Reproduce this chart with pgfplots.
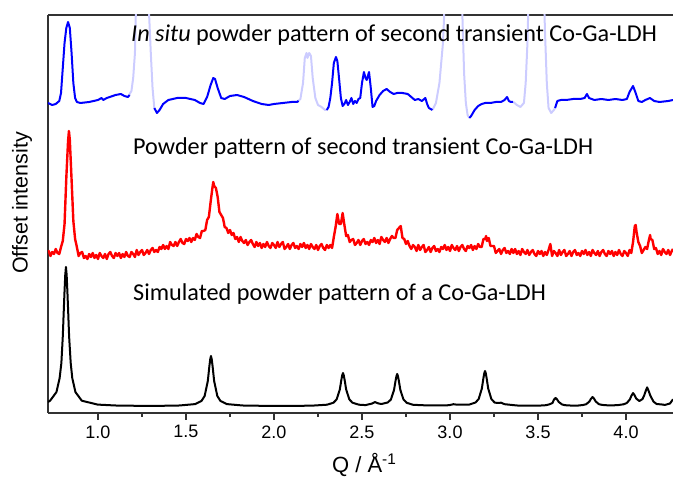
\documentclass[border=0pt]{standalone}
\usepackage{pgfplots}
\pgfplotsset{compat=1.18}
\usepackage{fontspec}
\setmainfont{Liberation Sans}
\newfontfamily\calfont{Carlito}
\definecolor{lightblue}{RGB}{204,204,255}
\definecolor{axisgray}{RGB}{50,50,50}
\begin{document}
\begin{tikzpicture}
\useasboundingbox (-48pt,-65pt) rectangle (625pt,413pt);
\begin{axis}[
  scale only axis, width=625pt, height=398pt,
  xmin=0.716, xmax=4.267, ymin=0, ymax=398,
  axis x line*=box, axis y line*=left,
  axis line style={axisgray, line width=1.2pt},
  ytick=\empty,
  xtick={1.0,1.5,2.0,2.5,3.0,3.5,4.0},
  minor x tick num=1,
  xtick pos=left, tick align=outside,
  major tick length=7pt, minor tick length=4pt,
  every tick/.style={axisgray, line width=1.1pt},
  xticklabel style={font=\fontsize{18}{18}\selectfont, yshift=-2pt},
  /pgf/number format/assume math mode=true,
  /pgf/number format/.cd, fixed, fixed zerofill, precision=1, /pgfplots/.cd,
  xlabel={Q / Å\textsuperscript{-1}},
  xlabel style={font=\fontsize{22}{22}\selectfont, at={(axis description cs:0.506,0)}, anchor=center, yshift=-52pt},
  clip=true,
]
% light blue masked segments
\addplot[lightblue, line width=2pt, line join=round] coordinates {(1.17,316) (1.19,322) (1.20,335) (1.21,360) (1.215,400) (1.22,430) (1.285,430) (1.29,400) (1.30,360) (1.31,325) (1.32,305)};
\addplot[lightblue, line width=2pt, line join=round] coordinates {(2.13,311) (2.15,314) (2.165,330) (2.175,355) (2.185,360) (2.19,355) (2.20,360) (2.21,357) (2.22,335) (2.235,315) (2.25,308) (2.27,306) (2.29,303) (2.30,303)};
\addplot[lightblue, line width=2pt, line join=round] coordinates {(2.90,303) (2.92,310) (2.94,330) (2.96,370) (2.97,410) (2.98,440) (3.06,440) (3.07,400) (3.08,340) (3.09,310) (3.10,298) (3.11,295)};
\addplot[lightblue, line width=2pt, line join=round] coordinates {(3.36,311) (3.38,308) (3.40,306) (3.42,310) (3.43,330) (3.44,370) (3.45,440) (3.53,440) (3.54,380) (3.55,330) (3.56,305) (3.575,300) (3.59,303) (3.60,306)};
% blue segments
\addplot[blue, line width=2pt, line join=round] coordinates {(0.716,310) (0.74,308) (0.76,309) (0.78,312) (0.79,320) (0.80,345) (0.81,370) (0.82,385) (0.83,391) (0.84,385) (0.85,360) (0.86,330) (0.87,315) (0.88,311) (0.90,310) (0.95,311) (1.00,313) (1.02,315) (1.03,313) (1.05,315) (1.10,318) (1.13,319) (1.15,317) (1.17,316) (1.18,318)};
\addplot[blue, line width=2pt, line join=round] coordinates {(1.32,305) (1.335,300) (1.35,303) (1.37,309) (1.40,313) (1.45,315) (1.50,315) (1.55,313) (1.58,310) (1.60,309) (1.62,316) (1.64,328) (1.655,335) (1.665,334) (1.68,325) (1.70,315) (1.72,314) (1.75,317) (1.79,318) (1.83,316) (1.88,312) (1.93,309) (1.97,308) (2.00,309) (2.05,310) (2.10,311) (2.13,311) (2.14,312)};
\addplot[blue, line width=2pt, line join=round] coordinates {(2.30,303) (2.31,306) (2.32,315) (2.33,330) (2.34,350) (2.352,356) (2.36,352) (2.37,334) (2.38,315) (2.39,307) (2.40,309) (2.41,313) (2.42,308) (2.43,311) (2.44,315) (2.45,309) (2.46,312) (2.47,310) (2.48,314) (2.49,315) (2.50,330) (2.511,341) (2.52,335) (2.527,333) (2.54,341) (2.55,325) (2.56,306) (2.57,307) (2.58,312) (2.60,318) (2.62,322) (2.64,324) (2.66,321) (2.68,319) (2.70,320) (2.73,320) (2.76,319) (2.78,316) (2.80,313) (2.82,314) (2.84,312) (2.86,315) (2.87,309) (2.88,305) (2.90,303)};
\addplot[blue, line width=2pt, line join=round] coordinates {(3.11,295) (3.12,297) (3.14,303) (3.16,307) (3.18,309) (3.20,310) (3.23,310) (3.26,311) (3.29,311) (3.31,313) (3.324,316) (3.335,312) (3.345,311) (3.358,311)};
\addplot[blue, line width=2pt, line join=round] coordinates {(3.597,305) (3.61,312) (3.63,313) (3.66,313) (3.70,314) (3.74,314) (3.765,315) (3.778,319) (3.79,315) (3.82,313) (3.86,314) (3.90,313) (3.94,314) (3.98,313) (4.005,314) (4.02,321) (4.04,327) (4.055,320) (4.07,312) (4.09,311) (4.11,313) (4.136,315) (4.16,312) (4.19,311) (4.24,312) (4.267,313)};
% red measured pattern
\addplot[red, line width=2.4pt, line join=round] coordinates {
(0.716,161) (0.72,162) (0.73,157) (0.74,161) (0.75,159) (0.76,164) (0.77,160) (0.78,159) (0.79,166) (0.80,172) (0.81,189)
(0.82,235) (0.83,272) (0.835,282) (0.84,273) (0.85,233) (0.86,192) (0.87,174) (0.88,166) (0.89,157) (0.90,160)
(0.91,161) (0.92,155) (0.93,157) (0.94,154) (0.95,159) (0.96,156) (0.97,160) (0.98,155) (0.99,158) (1.00,154)
(1.01,160) (1.02,157) (1.03,155) (1.04,159) (1.05,154) (1.06,159) (1.07,161) (1.08,157) (1.09,155) (1.10,160)
(1.11,157) (1.12,160) (1.13,155) (1.14,159) (1.15,156) (1.16,161) (1.17,157) (1.18,156) (1.19,161) (1.20,159)
(1.21,156) (1.22,163) (1.23,158) (1.24,161) (1.25,163) (1.26,158) (1.27,160) (1.28,163) (1.29,159) (1.30,163)
(1.31,165) (1.32,161) (1.33,163) (1.34,161) (1.35,166) (1.36,164) (1.37,168) (1.38,164) (1.39,167) (1.40,164)
(1.41,171) (1.42,168) (1.43,167) (1.44,171) (1.45,167) (1.46,171) (1.47,174) (1.48,170) (1.49,169) (1.50,174)
(1.51,172) (1.52,175) (1.53,171) (1.54,175) (1.55,173) (1.56,179) (1.57,176) (1.58,175) (1.59,182) (1.60,182)
(1.61,183) (1.62,193) (1.63,196) (1.64,211) (1.65,225) (1.655,231) (1.66,227) (1.67,225) (1.68,216) (1.69,201) (1.70,198)
(1.71,195) (1.72,186) (1.73,185) (1.74,180) (1.75,183) (1.76,178) (1.77,180) (1.78,174) (1.79,176) (1.80,171)
(1.81,176) (1.82,172) (1.83,170) (1.84,173) (1.85,168) (1.86,171) (1.87,173) (1.88,169) (1.89,166) (1.90,171)
(1.91,167) (1.92,170) (1.93,165) (1.94,169) (1.95,166) (1.96,171) (1.97,167) (1.98,165) (1.99,170) (2.00,168)
(2.01,165) (2.02,171) (2.03,166) (2.04,169) (2.05,171) (2.06,164) (2.07,166) (2.08,169) (2.09,164) (2.10,168)
(2.11,170) (2.12,165) (2.13,167) (2.14,164) (2.15,169) (2.16,166) (2.17,170) (2.18,165) (2.19,168) (2.20,164)
(2.21,169) (2.22,166) (2.23,164) (2.24,168) (2.25,163) (2.26,167) (2.27,169) (2.28,165) (2.29,163) (2.30,168)
(2.31,165) (2.32,168) (2.33,165) (2.34,176) (2.35,186) (2.36,199) (2.37,189) (2.38,189) (2.39,200) (2.40,188)
(2.41,177) (2.42,178) (2.43,171) (2.44,173) (2.45,174) (2.46,168) (2.47,170) (2.48,173) (2.49,168) (2.50,172)
(2.51,174) (2.52,169) (2.53,171) (2.54,168) (2.55,173) (2.56,171) (2.57,175) (2.58,170) (2.59,173) (2.60,169)
(2.61,176) (2.62,173) (2.63,171) (2.64,175) (2.65,170) (2.66,174) (2.67,177) (2.68,175) (2.69,175) (2.70,183)
(2.71,185) (2.72,187) (2.73,175) (2.74,174) (2.75,169) (2.76,172) (2.77,167) (2.78,164) (2.79,168) (2.80,166)
(2.81,162) (2.82,168) (2.83,163) (2.84,166) (2.85,168) (2.86,161) (2.87,163) (2.88,166) (2.89,161) (2.90,165)
(2.91,167) (2.92,162) (2.93,164) (2.94,161) (2.95,166) (2.96,164) (2.97,168) (2.98,163) (2.99,166) (3.00,162)
(3.01,168) (3.02,165) (3.03,163) (3.04,167) (3.05,162) (3.06,166) (3.07,168) (3.08,164) (3.09,162) (3.10,167)
(3.11,165) (3.12,168) (3.13,163) (3.14,167) (3.15,164) (3.16,169) (3.17,166) (3.18,166) (3.19,174) (3.20,174)
(3.205,177) (3.21,172) (3.22,175) (3.23,167) (3.24,167) (3.25,167) (3.26,160) (3.27,162) (3.28,164) (3.29,159) (3.30,163)
(3.31,165) (3.32,160) (3.33,162) (3.34,159) (3.35,164) (3.36,160) (3.37,164) (3.38,159) (3.39,162) (3.40,158)
(3.41,164) (3.42,161) (3.43,159) (3.44,163) (3.45,158) (3.46,161) (3.47,163) (3.48,159) (3.49,157) (3.50,162)
(3.51,159) (3.52,162) (3.53,157) (3.54,161) (3.55,158) (3.56,163) (3.57,169) (3.58,157) (3.59,162) (3.60,160)
(3.61,157) (3.62,163) (3.63,158) (3.64,161) (3.65,163) (3.66,157) (3.67,159) (3.68,162) (3.69,157) (3.70,161)
(3.71,163) (3.72,158) (3.73,160) (3.74,157) (3.75,162) (3.76,159) (3.77,163) (3.78,158) (3.79,161) (3.80,157)
(3.81,163) (3.82,160) (3.83,158) (3.84,162) (3.85,157) (3.86,161) (3.87,163) (3.88,159) (3.89,157) (3.90,162)
(3.91,159) (3.92,162) (3.93,157) (3.94,161) (3.95,158) (3.96,163) (3.97,159) (3.98,157) (3.99,162) (4.00,160)
(4.01,157) (4.02,163) (4.03,160) (4.04,171) (4.05,187) (4.055,188) (4.06,181) (4.07,171) (4.08,167) (4.09,160) (4.10,163)
(4.11,166) (4.12,164) (4.13,173) (4.137,178) (4.14,174) (4.15,173) (4.16,164) (4.17,165) (4.18,159) (4.19,162) (4.20,158)
(4.21,164) (4.22,161) (4.23,159) (4.24,163) (4.25,158) (4.26,162) (4.267,164)
};
% black simulated pattern
\addplot[black, line width=2pt, line join=round] coordinates {
(0.716,11) (0.728,12.3) (0.764,20.9) (0.782,34.8) (0.792,50) (0.800,76.5) (0.809,118) (0.814,138) (0.818,146) (0.822,138) (0.827,118) (0.836,76.5)
(0.845,50) (0.854,34.8) (0.872,20.9) (0.908,12.3) (0.998,8.4) (1.10,7.5) (1.30,7) (1.462,7.5) (1.552,8.9) (1.588,12) (1.606,17)
(1.624,32) (1.633,47) (1.638,54) (1.642,57) (1.646,54) (1.651,47) (1.660,32) (1.678,17) (1.696,12) (1.732,8.9) (1.822,7.5) (2.0,7) (2.212,7.3)
(2.302,8.3) (2.338,10.3) (2.356,13.6) (2.374,23.5) (2.383,33.4) (2.388,38) (2.392,40) (2.396,38) (2.401,33.4) (2.410,23.5) (2.428,13.6)
(2.446,10.3) (2.482,8.3) (2.52,7.9) (2.556,9.4) (2.574,10.9) (2.592,9.6) (2.61,9) (2.646,10.5) (2.664,13.4) (2.682,23)
(2.691,32.6) (2.696,37) (2.70,39) (2.704,37) (2.709,32.6) (2.718,23) (2.736,13.4) (2.754,10.2) (2.79,8.2) (2.88,7.5) (2.98,7.6) (3.00,8)
(3.02,8.8) (3.04,8.3) (3.109,8.4) (3.145,10.5) (3.163,14) (3.181,24.5) (3.190,35) (3.195,40) (3.199,42) (3.203,40) (3.208,35) (3.217,24.5)
(3.235,14) (3.253,10.5) (3.27,10) (3.29,10.3) (3.31,8.8) (3.38,7.5) (3.50,7.3) (3.546,7.8) (3.564,8.6) (3.582,10)
(3.591,13.4) (3.60,15) (3.609,13.4) (3.618,11) (3.636,8.6) (3.654,7.8) (3.70,7.3) (3.72,7.3) (3.756,8) (3.774,8.8)
(3.792,11.5) (3.801,14.2) (3.81,16) (3.819,14.2) (3.828,11.5) (3.846,8.8) (3.864,8.1) (3.90,7.6) (3.95,7.8) (3.986,8.7)
(4.004,9.9) (4.022,13.6) (4.031,17.3) (4.04,19.9) (4.049,17.7) (4.058,14.4) (4.076,12) (4.094,14) (4.103,17.5)
(4.112,22) (4.12,25.6) (4.129,21.9) (4.138,17.5) (4.156,11.4) (4.174,9) (4.21,8.4) (4.22,8) (4.25,9.5) (4.267,13.7)
};
% annotations
\node[anchor=west, inner sep=0pt, font=\calfont\fontsize{24.2}{24.2}\selectfont] at (axis cs:1.1875,378) {\textit{In situ} powder pattern of second transient Co-Ga-LDH};
\node[anchor=west, inner sep=0pt, font=\calfont\fontsize{24.2}{24.2}\selectfont] at (axis cs:1.199,265) {Powder pattern of second transient Co-Ga-LDH};
\node[anchor=west, inner sep=0pt, font=\calfont\fontsize{24.2}{24.2}\selectfont] at (axis cs:1.199,119) {Simulated powder pattern of a Co-Ga-LDH};
\end{axis}
\node[rotate=90, anchor=center, inner sep=0pt, font=\fontsize{21.5}{21.5}\selectfont] at (-26pt,210pt) {Offset intensity};
\end{tikzpicture}
\end{document}
